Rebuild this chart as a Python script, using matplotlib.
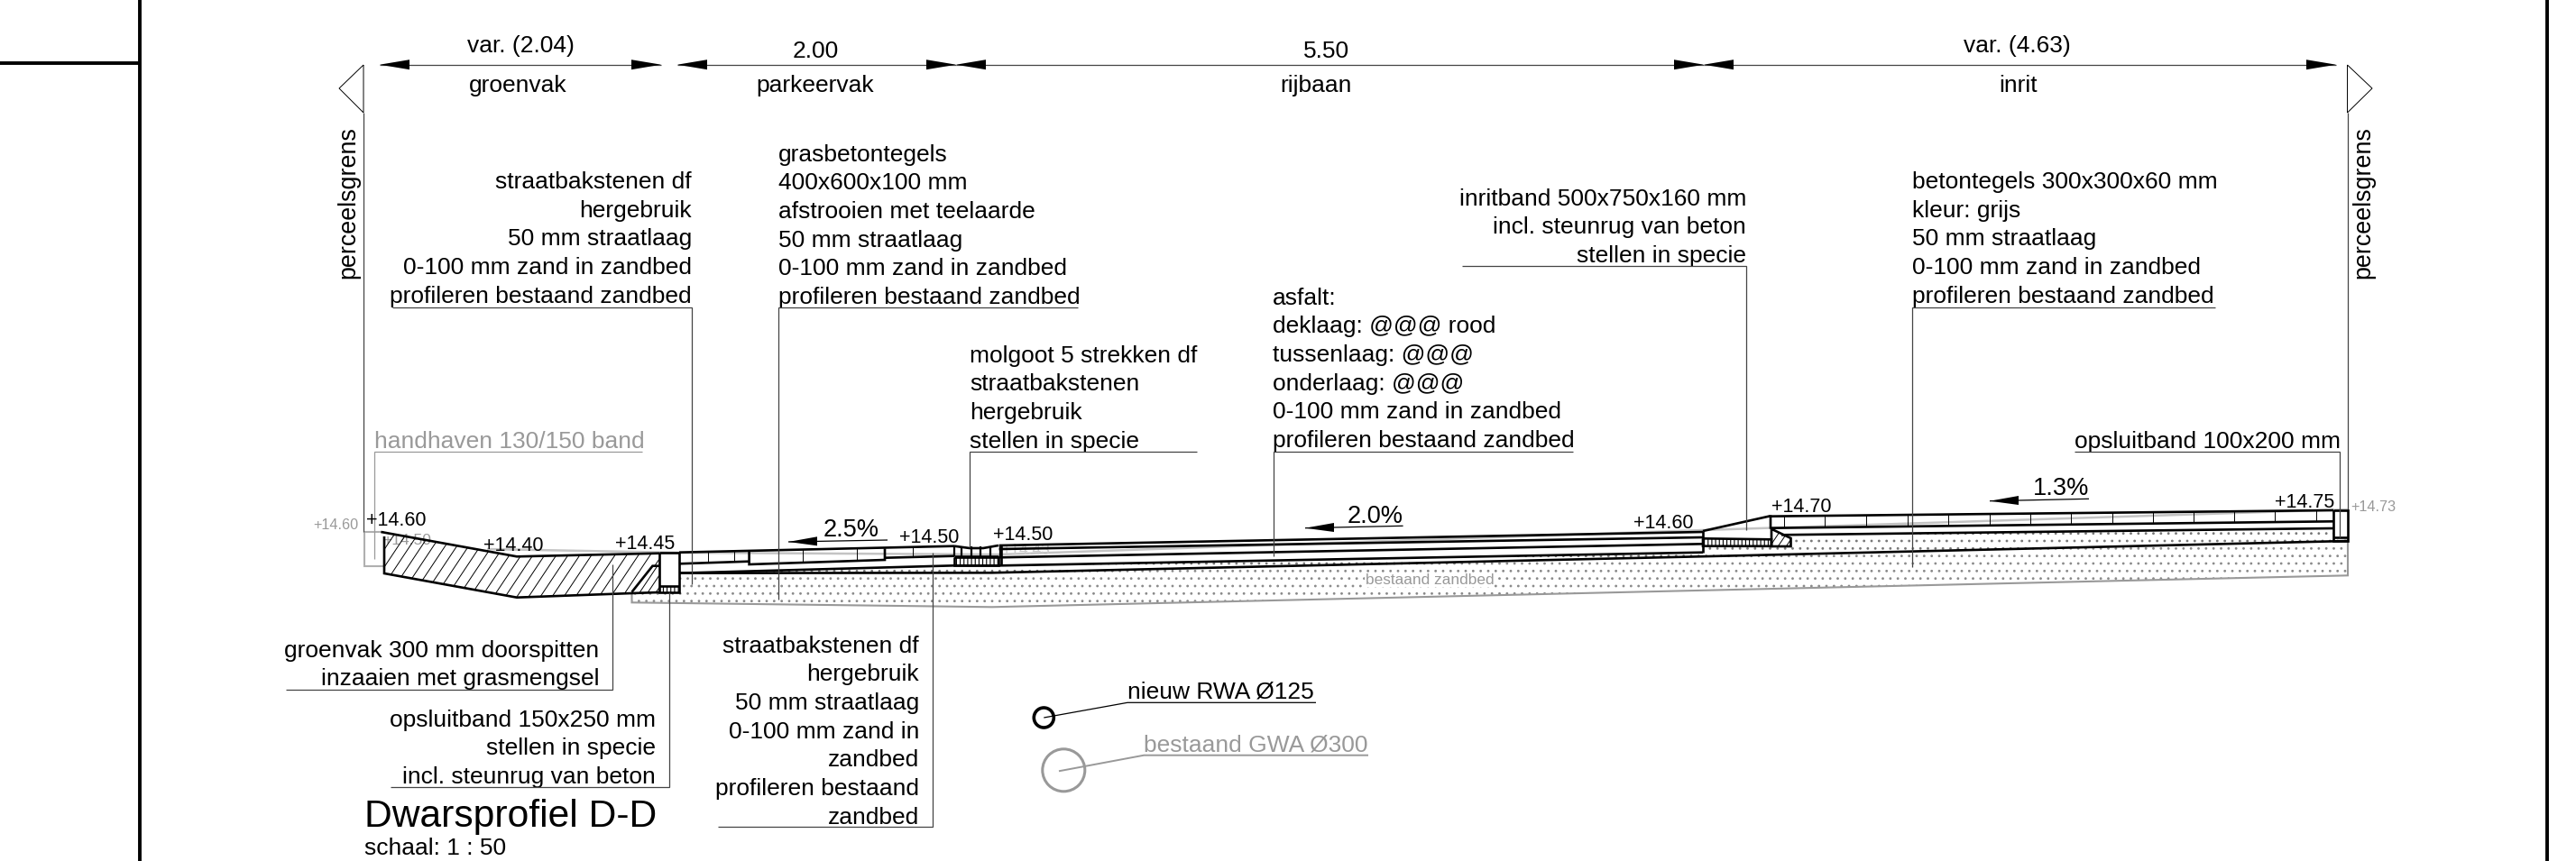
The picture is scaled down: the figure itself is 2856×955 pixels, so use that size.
import matplotlib
matplotlib.use('Agg')
import matplotlib.pyplot as plt
from matplotlib.patches import Circle, Polygon

plt.rcParams['font.family'] = ['Liberation Sans', 'DejaVu Sans']
plt.rcParams['hatch.linewidth'] = 0.8

# dimension chain along the top
dim_spans = [(421, 733), (751, 1060), (1060, 1889), (1889, 2590)]
dim_values = ['var. (2.04)', '2.00', '5.50', 'var. (4.63)']
dim_names = ['groenvak', 'parkeervak', 'rijbaan', 'inrit']
dim_value_x = [577, 904, 1471, 2236]
dim_value_y = [51, 57, 57, 51]
dim_name_x = [574, 904, 1459, 2238]

# levels along the profile
level_labels = ['+14.60', '+14.40', '+14.45', '+14.50', '+14.50', '+14.60', '+14.70', '+14.75']
level_x = [439, 569, 715, 1030, 1134, 1844, 1997, 2555]
level_y = [577, 605, 603, 596, 593, 580, 562, 557]

# slopes
slope_labels = ['2.5%', '2.0%', '1.3%']
slope_x = [944, 1525, 2285]
slope_y = [588, 573, 542]
slope_tip = [(874, 601), (1447, 585.7), (2206, 555.7)]
slope_tail = [(984, 599), (1555.6, 583.3), (2316, 553.3)]

# section outline, groenvak
grass_top = [(422.4, 590), (573, 617.3), (731, 613.7)]
grass_bottom = [(426, 595), (426, 636), (573, 662.7), (700.5, 658), (731, 657)]
grass_fill = [(426, 592), (573, 617.3), (731, 613.7), (731, 627.7), (723.5, 627.7),
              (700.5, 656.7), (700.5, 658), (573, 662.7), (426, 636)]
backing_left = [(700.5, 658), (700.5, 656.7), (723.5, 627.7), (731, 627.7), (731, 657)]

# kerb left
kerb_left = [(731, 612.7), (753, 612.7), (753, 657.3), (731, 657.3), (731, 612.7)]
kerb_left_foot = [(731, 650), (753, 650), (753, 657.3), (731, 657.3)]

# parkeervak
park_top = [(753, 612.7), (1058, 605.7)]
park_under_a = [(753, 625.3), (830.6, 622.7)]
park_tile = [(830.6, 611.7), (830.6, 626), (981, 621), (981, 608.3)]
park_under_b = [(981, 618.7), (1058, 616.7)]
park_base = [(753, 635.7), (1058, 627.3), (1110, 627.3)]
park_joints_x = [785, 814, 890, 950, 1012]
park_joints_top = [612, 611, 609, 608, 607]
park_joints_bot = [624, 623, 624, 622, 618]

# molgoot
gutter_top = [(1058, 605.7), (1075, 608), (1090, 608), (1107, 605)]
gutter_bottom = [(1058, 617), (1107, 617)]
gutter_joints_x = [1058, 1066, 1077, 1087, 1098, 1109]
gutter_strip = [(1058, 618), (1107, 618), (1107, 626.5), (1058, 626.5)]

# rijbaan
road_lines = [
    [(1107.6, 605), (1888, 590)],
    [(1107.6, 609), (1888, 596)],
    [(1107.6, 618.3), (1888, 603.3)],
    [(1110, 627.3), (1888, 612.7)],
]
road_left = [(1110, 605), (1110, 627.3)]
road_right = [(1888, 589), (1888, 613)]

# inritband and inrit
band_top = [(1888, 589), (1961, 572.7), (1963, 572.7), (1963, 586.7)]
band_strip = [(1888, 597.3), (1964, 598.3), (1964, 605.8), (1888, 605.7)]
backing_right = [(1964, 586.7), (1985.5, 597), (1985.5, 606), (1964, 606)]
drive_top = [(1961, 572.7), (2587, 566)]
drive_tile = [(1963, 585.7), (2587, 578.3)]
drive_base = [(1975, 593.3), (2587, 586)]
drive_joints_x = [1978, 2023, 2069, 2115, 2160, 2206, 2251, 2296, 2342, 2387, 2432, 2477, 2522, 2568]
drive_joints_top = [572, 571, 571, 570, 570, 569, 569, 568, 568, 567, 567, 567, 566, 566]
drive_joints_bot = [585, 585, 584, 583, 583, 582, 582, 581, 581, 580, 580, 579, 579, 578]
kerb_right = [(2587, 565.5), (2603, 565.5), (2603, 600), (2587, 600), (2587, 565.5)]
kerb_right_foot = [(2587, 596), (2603, 596)]

# sand
structure_bottom = [(753, 635.7), (1100, 635.3), (1888, 617.2), (2603, 600)]
sand_bottom = [(700.5, 658), (700.5, 668.3), (1100, 673.3), (1850, 655.7), (2603, 638.3), (2603, 600)]
sand_fill = [(700.5, 658), (731, 657), (753, 657.3), (753, 635.7), (1100, 635.3), (1888, 617.2),
             (2603, 600), (2603, 638.3), (1850, 655.7), (1100, 673.3), (700.5, 668.3)]
bed_fill = [(753, 635.7), (1058, 627.3), (1110, 627.3), (1888, 612.7), (1888, 605.7), (1985.5, 606),
            (1985.5, 594), (2587, 586), (2587, 596), (2603, 596), (2603, 600), (1888, 617.2), (1100, 635.3)]

# existing ground, grey
old_ground = [(540, 609), (753, 613), (1107, 615), (1887, 588), (2603, 565)]
old_left = [(426, 590), (404, 590), (404, 628), (426, 628)]

# notes
note_straat = ['straatbakstenen df', 'hergebruik', '50 mm straatlaag', '0-100 mm zand in zandbed', 'profileren bestaand zandbed']
note_gras = ['grasbetontegels', '400x600x100 mm', 'afstrooien met teelaarde', '50 mm straatlaag', '0-100 mm zand in zandbed', 'profileren bestaand zandbed']
note_molgoot = ['molgoot 5 strekken df', 'straatbakstenen', 'hergebruik', 'stellen in specie']
note_asfalt = ['asfalt:', 'deklaag: @@@ rood', 'tussenlaag: @@@', 'onderlaag: @@@', '0-100 mm zand in zandbed', 'profileren bestaand zandbed']
note_inritband = ['inritband 500x750x160 mm', 'incl. steunrug van beton', 'stellen in specie']
note_beton = ['betontegels 300x300x60 mm', 'kleur: grijs', '50 mm straatlaag', '0-100 mm zand in zandbed', 'profileren bestaand zandbed']
note_groen = ['groenvak 300 mm doorspitten', 'inzaaien met grasmengsel']
note_opsluit = ['opsluitband 150x250 mm', 'stellen in specie', 'incl. steunrug van beton']
note_straat2 = ['straatbakstenen df', 'hergebruik', '50 mm straatlaag', '0-100 mm zand in', 'zandbed', 'profileren bestaand', 'zandbed']

BLACK = '#000000'
GREY = '#999999'
LEADER = '#444444'
FS = 19.0

fig = plt.figure(figsize=(28.56, 9.55), dpi=100)
ax = fig.add_axes([0, 0, 1, 1])
ax.set_xlim(0, 2856)
ax.set_ylim(955, 0)
ax.axis('off')


def line(pts, lw=1.9, color=BLACK, z=5):
    ax.plot([p[0] for p in pts], [p[1] for p in pts], color=color, lw=lw, zorder=z,
            solid_capstyle='butt', solid_joinstyle='miter')


def hatch(pts, pattern, color=BLACK, z=3):
    ax.fill([p[0] for p in pts], [p[1] for p in pts], facecolor='none', edgecolor=color,
            hatch=pattern, linewidth=0, zorder=z)


def slant_hatch(pts, step=13):
    # steeper than the built in '/' hatch, clipped to the polygon
    clip = Polygon(pts, closed=True, transform=ax.transData, facecolor='none', edgecolor='none')
    ax.add_patch(clip)
    xs = [p[0] for p in pts]
    for x0 in range(int(min(xs)) - 60, int(max(xs)) + step, step):
        seg, = ax.plot([x0, x0 + 60], [680, 590], color=BLACK, lw=0.7, zorder=3)
        seg.set_clip_path(clip)


def arrow(tip, base_x, base_y, half=5.5):
    ax.fill([tip[0], base_x, base_x], [tip[1], base_y - half, base_y + half], color=BLACK, lw=0, zorder=6)


def note(lines, x, first_y, ha='left', pitch=31.7, color=BLACK):
    for i, s in enumerate(lines):
        ax.text(x, first_y + i * pitch, s, ha=ha, va='center', fontsize=FS, color=color)


# frame
line([(155, 0), (155, 955)], lw=2.8)
line([(0, 70), (155, 70)], lw=2.8)
line([(2824, 0), (2824, 955)], lw=2.8)

# dimension chain
for (x0, x1), val, name, vx, vy, nx in zip(dim_spans, dim_values, dim_names, dim_value_x, dim_value_y, dim_name_x):
    line([(x0, 71.7), (x1, 71.7)], lw=0.9, color=LEADER)
    arrow((x0, 71.7), x0 + 33, 71.7)
    arrow((x1, 71.7), x1 - 33, 71.7)
    ax.text(vx, vy, val, ha='center', va='center', fontsize=FS)
    ax.text(nx, 95, name, ha='center', va='center', fontsize=FS)

# property boundaries
line([(403, 72), (376, 98), (403, 125), (403, 72)], lw=0.7)
line([(403, 125), (403, 590)], lw=0.9, color=LEADER)
line([(2602.5, 72), (2630, 98), (2602.5, 125), (2602.5, 72)], lw=0.7)
line([(2602.5, 125), (2602.5, 566)], lw=0.9, color=LEADER)
ax.text(386, 225, 'perceelsgrens', rotation=90, ha='center', va='center', fontsize=19.4)
ax.text(2620, 225, 'perceelsgrens', rotation=90, ha='center', va='center', fontsize=19.4)

# stipple and hatching
hatch(sand_fill, '..', '#8a8a8a', z=2)
hatch(bed_fill, '..', '#777777', z=2)
slant_hatch(grass_fill)
slant_hatch(backing_left, step=9)
slant_hatch(backing_right, step=9)
hatch(kerb_left_foot, '||||')
hatch(gutter_strip, '||||')
hatch(band_strip, '||||')

# existing ground
line(old_ground, lw=1.8, color='#c4c4c4', z=1)
line(old_left, lw=1.5, color='#b0b0b0', z=1)
line(sand_bottom, lw=1.5, color=GREY, z=2)

# section lines
for pts in [grass_top, grass_bottom, backing_left[1:4], kerb_left, [(731, 650), (753, 650)],
            park_top, park_under_a, park_tile, park_under_b, park_base,
            gutter_top, gutter_bottom, gutter_strip + gutter_strip[:1], road_left, road_right,
            band_top, band_strip + band_strip[:1], backing_right + backing_right[:1],
            drive_top, drive_tile, drive_base, kerb_right, kerb_right_foot, structure_bottom] + road_lines:
    line(pts)
for x, y0, y1 in zip(park_joints_x, park_joints_top, park_joints_bot):
    line([(x, y0), (x, y1)], lw=0.7)
for x in gutter_joints_x:
    line([(x, 606), (x, 617)], lw=1.6)
for x, y0, y1 in zip(drive_joints_x, drive_joints_top, drive_joints_bot):
    line([(x, y0), (x, y1)], lw=0.7)

# notes with their leaders
note(note_straat, 767, 202, ha='right')
line([(435, 341), (767, 341), (767, 648)], lw=0.9, color=LEADER)
note(note_gras, 863, 171.5)
line([(1194.5, 341), (863, 341), (863, 665)], lw=0.9, color=LEADER)
note(note_molgoot, 1075, 394.5)
line([(1326.5, 501), (1075, 501), (1075, 607)], lw=0.9, color=LEADER)
note(note_asfalt, 1411, 330.5)
line([(1743.6, 501), (1412, 501), (1412, 617)], lw=0.9, color=LEADER)
note(note_inritband, 1936, 220.5, ha='right')
line([(1620.5, 295), (1936, 295), (1936, 588)], lw=0.9, color=LEADER)
note(note_beton, 2120, 202)
line([(2456, 341), (2120, 341), (2120, 629)], lw=0.9, color=LEADER)
note(note_groen, 664, 721.5, ha='right')
line([(317, 765), (679, 765), (679, 626)], lw=0.9, color=LEADER)
note(note_opsluit, 727, 798.5, ha='right')
line([(433, 873), (742, 873), (742, 657)], lw=0.9, color=LEADER)
note(note_straat2, 1019, 716.5, ha='right')
line([(796, 917), (1034, 917), (1034, 613)], lw=0.9, color=LEADER)

ax.text(415, 490, 'handhaven 130/150 band', ha='left', va='center', fontsize=FS, color=GREY)
line([(712, 501), (415, 501), (415, 620)], lw=0.9, color=GREY, z=1)
ax.text(2595, 490, 'opsluitband 100x200 mm', ha='right', va='center', fontsize=FS)
line([(2300, 501), (2594, 501), (2594, 596)], lw=0.9, color=LEADER)

# levels
for s, x, y in zip(level_labels, level_x, level_y):
    ax.text(x, y, s, ha='center', va='center', fontsize=15.5, zorder=7)
ax.text(372, 582, '+14.60', ha='center', va='center', fontsize=11.7, color=GREY)
ax.text(2631, 562, '+14.73', ha='center', va='center', fontsize=11.7, color=GREY)
ax.text(451, 599, '+14.50', ha='center', va='center', fontsize=12.5, color=GREY, zorder=1)
ax.text(1137, 610, '+14.43', ha='center', va='center', fontsize=12.5, color='#cccccc', zorder=1)
ax.text(1585, 643, 'bestaand zandbed', ha='center', va='center', fontsize=12.4, color=GREY, zorder=7,
        bbox=dict(facecolor='white', edgecolor='none', pad=0.5))

# slopes
for s, x, y, tip, tail in zip(slope_labels, slope_x, slope_y, slope_tip, slope_tail):
    ax.text(x, y, s, ha='center', va='center', fontsize=19.5)
    line([tip, tail], lw=0.9)
    arrow(tip, tip[0] + 32, tip[1] - 0.7, half=5)

# pipes
ax.add_patch(Circle((1157.3, 796), 11, fill=False, ec=BLACK, lw=2.6, zorder=5))
line([(1157.3, 796), (1250, 779.3), (1459, 779.3)], lw=0.9)
ax.text(1250, 767, 'nieuw RWA Ø125', ha='left', va='center', fontsize=FS)
ax.add_patch(Circle((1179.3, 854.3), 23.5, fill=False, ec=GREY, lw=2.2, zorder=5))
line([(1174, 855.3), (1268.3, 837.7), (1517, 837.7)], lw=1.4, color=GREY)
ax.text(1268, 826, 'bestaand GWA Ø300', ha='left', va='center', fontsize=FS, color=GREY)

# title
ax.text(404, 906, 'Dwarsprofiel D-D', ha='left', va='center', fontsize=30.7)
ax.text(404, 948, 'schaal: 1 : 50', ha='left', va='baseline', fontsize=FS)

fig.savefig('out.png', dpi=100)
